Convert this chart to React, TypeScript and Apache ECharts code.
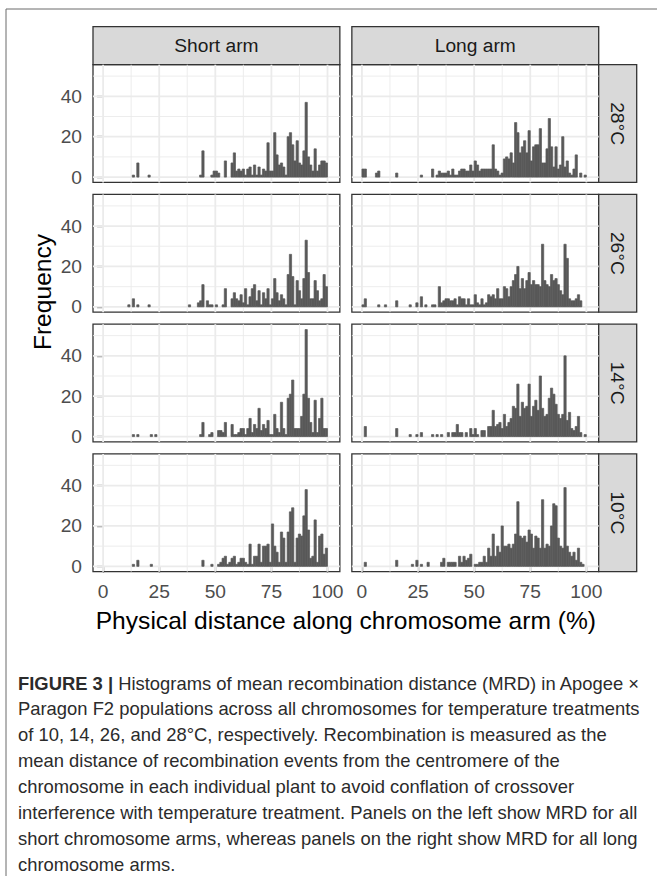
import React, { useEffect, useRef } from "react";
import * as echarts from "echarts";

// ---------------- data ----------------
const ARMS = ["Short arm", "Long arm"];
const TEMPS = ["28°C", "26°C", "14°C", "10°C"];
const X_TICKS = [0, 25, 50, 75, 100];
const Y_TICKS = [0, 20, 40];
const X_MINOR = [12.5, 37.5, 62.5, 87.5];
const Y_MINOR = [10, 30, 50];
const BIN_WIDTH = 1; // bins of 1 % from 0 to 100

const SHORT_28 = [
  0, 0, 0, 0, 0, 0, 0, 0, 0, 0, 0, 0, 0, 1, 0, 7, 0, 0, 0, 0,
  1, 0, 0, 0, 0, 0, 0, 0, 0, 0, 0, 0, 0, 0, 0, 0, 0, 0, 0, 0,
  0, 0, 0, 1, 13, 0, 0, 0, 1, 3, 3, 2, 0, 0, 8, 0, 0, 7, 12, 3,
  4, 3, 4, 1, 4, 5, 1, 6, 1, 5, 1, 4, 3, 17, 3, 3, 22, 11, 6, 7,
  5, 1, 20, 22, 16, 8, 18, 7, 6, 13, 37, 10, 6, 3, 14, 3, 6, 8, 8, 7,
];
const LONG_28 = [
  4, 4, 0, 0, 0, 0, 2, 3, 0, 0, 0, 0, 0, 0, 0, 2, 0, 0, 0, 0,
  0, 0, 0, 0, 0, 0, 1, 0, 0, 0, 0, 4, 0, 1, 3, 2, 2, 2, 3, 1,
  4, 1, 1, 3, 4, 4, 3, 3, 6, 3, 8, 6, 3, 4, 4, 4, 4, 4, 16, 4,
  3, 1, 2, 9, 10, 9, 12, 7, 27, 22, 12, 15, 18, 12, 23, 8, 15, 16, 16, 24,
  7, 7, 14, 29, 15, 5, 15, 4, 6, 20, 5, 8, 2, 1, 4, 11, 0, 2, 0, 1,
];
const SHORT_26 = [
  0, 0, 0, 0, 0, 0, 0, 0, 0, 0, 0, 1, 0, 4, 0, 1, 0, 0, 0, 0,
  1, 0, 0, 0, 0, 0, 0, 0, 0, 0, 0, 0, 0, 0, 0, 0, 0, 0, 1, 0,
  0, 0, 2, 3, 11, 0, 3, 1, 1, 0, 1, 0, 0, 1, 9, 0, 0, 4, 7, 4,
  3, 6, 2, 9, 1, 5, 9, 11, 3, 8, 1, 7, 4, 9, 1, 4, 14, 7, 3, 6,
  4, 1, 16, 26, 15, 1, 13, 8, 4, 14, 33, 17, 4, 4, 13, 8, 3, 4, 16, 10,
];
const LONG_26 = [
  1, 4, 0, 0, 0, 0, 0, 1, 0, 0, 1, 0, 0, 0, 0, 3, 0, 0, 0, 0,
  0, 1, 0, 0, 2, 0, 5, 0, 1, 0, 0, 1, 1, 0, 10, 2, 3, 4, 4, 3,
  3, 4, 1, 5, 4, 4, 1, 4, 1, 1, 6, 2, 1, 4, 1, 2, 6, 5, 6, 4,
  9, 4, 4, 10, 9, 5, 10, 13, 16, 20, 9, 14, 9, 13, 17, 11, 13, 11, 11, 10,
  31, 13, 11, 10, 16, 13, 14, 11, 8, 6, 31, 24, 4, 3, 3, 4, 6, 3, 0, 0,
];
const SHORT_14 = [
  0, 0, 0, 0, 0, 0, 0, 0, 0, 0, 0, 0, 0, 1, 0, 1, 0, 0, 0, 0,
  0, 1, 0, 1, 0, 0, 0, 0, 0, 0, 0, 0, 0, 0, 0, 0, 0, 0, 0, 0,
  0, 0, 0, 1, 7, 0, 0, 1, 2, 0, 0, 3, 3, 2, 7, 0, 0, 6, 1, 1,
  2, 4, 4, 1, 4, 9, 2, 6, 4, 14, 3, 6, 4, 8, 1, 1, 11, 4, 2, 17,
  4, 1, 19, 21, 28, 4, 4, 4, 10, 21, 53, 19, 7, 2, 18, 2, 9, 19, 4, 4,
];
const LONG_14 = [
  0, 5, 0, 0, 0, 0, 0, 0, 0, 0, 0, 0, 0, 0, 0, 4, 0, 0, 0, 0,
  0, 1, 0, 0, 1, 0, 2, 0, 0, 0, 0, 1, 0, 1, 0, 1, 0, 0, 2, 0,
  2, 2, 6, 2, 2, 0, 2, 0, 4, 1, 4, 1, 0, 3, 3, 0, 5, 5, 13, 5,
  6, 7, 4, 11, 5, 7, 9, 15, 14, 26, 10, 17, 14, 15, 26, 10, 15, 18, 13, 30,
  14, 10, 11, 19, 24, 21, 16, 11, 9, 11, 40, 8, 12, 4, 3, 5, 10, 2, 0, 1,
];
const SHORT_10 = [
  0, 0, 0, 0, 0, 0, 0, 0, 0, 0, 0, 0, 0, 1, 0, 3, 0, 0, 0, 0,
  0, 1, 0, 0, 0, 0, 0, 0, 0, 0, 0, 0, 0, 0, 0, 0, 0, 0, 0, 0,
  0, 0, 0, 0, 3, 0, 0, 0, 1, 0, 0, 1, 2, 4, 5, 1, 2, 4, 5, 1,
  2, 4, 4, 2, 1, 11, 1, 5, 5, 11, 2, 10, 10, 11, 2, 21, 10, 7, 2, 17,
  14, 2, 17, 27, 29, 2, 14, 16, 15, 25, 38, 18, 4, 5, 23, 2, 15, 16, 6, 9,
];
const LONG_10 = [
  0, 2, 0, 0, 0, 0, 0, 0, 0, 0, 0, 0, 0, 0, 0, 3, 0, 0, 0, 0,
  0, 0, 1, 0, 3, 0, 1, 0, 0, 2, 0, 0, 0, 0, 0, 2, 4, 0, 2, 2,
  2, 2, 0, 5, 2, 5, 3, 4, 6, 0, 1, 1, 2, 2, 5, 2, 9, 5, 16, 5,
  10, 7, 20, 10, 10, 11, 9, 11, 16, 32, 15, 14, 15, 12, 18, 16, 9, 15, 14, 9,
  33, 9, 11, 10, 20, 31, 30, 14, 10, 9, 39, 10, 7, 5, 7, 3, 9, 2, 1, 0,
];

// rows: temperatures (top -> bottom), columns: arms
const PANEL_COUNTS = [
  [SHORT_28, LONG_28],
  [SHORT_26, LONG_26],
  [SHORT_14, LONG_14],
  [SHORT_10, LONG_10],
];

const CAPTION_LINES = [
  "{b|FIGURE 3 |} Histograms of mean recombination distance (MRD) in Apogee ×",
  "Paragon F2 populations across all chromosomes for temperature treatments",
  "of 10, 14, 26, and 28°C, respectively. Recombination is measured as the",
  "mean distance of recombination events from the centromere of the",
  "chromosome in each individual plant to avoid conflation of crossover",
  "interference with temperature treatment. Panels on the left show MRD for all",
  "short chromosome arms, whereas panels on the right show MRD for all long",
  "chromosome arms.",
];

// ---------------- layout ----------------
const FONT = "'Liberation Sans', Arial, Helvetica, sans-serif";
const PANEL_LEFT = [93, 351.85];
const PANEL_W = 246.85;
const PANEL_TOP0 = 64.7;
const PANEL_H = 117.75;
const ROW_STEP = 129.75;
const STRIP = 38;
const X_MIN = -4.5;
const X_MAX = 105.5;
const Y_MIN = -2.65;
const Y_MAX = 55.65;
const BORDER = "#333333";
const STRIP_FILL = "#d9d9d9";
const BAR_FILL = "#595959";
const GRID_COLOR = "#ebebeb";
const CAPTION_SIZE = 18.4;

export default function App() {
  const ref = useRef<HTMLDivElement>(null);

  useEffect(() => {
    if (!ref.current) return;
    const chart = echarts.init(ref.current, undefined, { renderer: "svg" });

    const grids: any[] = [];
    const xAxes: any[] = [];
    const yAxes: any[] = [];
    const series: any[] = [];
    const graphics: any[] = [];

    const gridLineData: number[][] = [];
    Y_TICKS.forEach((v) => gridLineData.push([0, v, 1]));
    Y_MINOR.forEach((v) => gridLineData.push([0, v, 0]));
    X_TICKS.forEach((v) => gridLineData.push([1, v, 1]));
    X_MINOR.forEach((v) => gridLineData.push([1, v, 0]));

    TEMPS.forEach((temp, r) => {
      ARMS.forEach((arm, c) => {
        const k = r * 2 + c;
        const top = PANEL_TOP0 + r * ROW_STEP;
        grids.push({
          left: PANEL_LEFT[c],
          top,
          width: PANEL_W,
          height: PANEL_H,
          show: true,
          borderColor: BORDER,
          borderWidth: 1.3,
          backgroundColor: "#ffffff",
        });
        xAxes.push({
          type: "value",
          gridIndex: k,
          min: X_MIN,
          max: X_MAX,
          axisLine: { show: false },
          splitLine: { show: false },
          axisTick: {
            show: r === 3,
            customValues: X_TICKS,
            length: 6,
            lineStyle: { color: BORDER, width: 1.3 },
          },
          axisLabel: {
            show: r === 3,
            customValues: X_TICKS,
            fontSize: 19.2,
            fontFamily: FONT,
            color: "#4d4d4d",
            margin: 10,
          },
        });
        yAxes.push({
          type: "value",
          gridIndex: k,
          min: Y_MIN,
          max: Y_MAX,
          axisLine: { show: false },
          splitLine: { show: false },
          axisTick: {
            show: c === 0,
            customValues: Y_TICKS,
            length: 6,
            lineStyle: { color: BORDER, width: 1.3 },
          },
          axisLabel: {
            show: c === 0,
            customValues: Y_TICKS,
            fontSize: 19.2,
            fontFamily: FONT,
            color: "#4d4d4d",
            margin: 11,
          },
        });

        series.push({
          type: "custom",
          xAxisIndex: k,
          yAxisIndex: k,
          silent: true,
          z: 1,
          data: gridLineData,
          renderItem: (params: any, api: any) => {
            const orient = api.value(0);
            const v = api.value(1);
            const major = api.value(2) === 1;
            const cs = params.coordSys;
            const style = { stroke: GRID_COLOR, lineWidth: major ? 1.8 : 0.9 };
            if (orient === 0) {
              const p = api.coord([0, v]);
              return {
                type: "line",
                shape: { x1: cs.x, y1: p[1], x2: cs.x + cs.width, y2: p[1] },
                style,
              };
            }
            const p = api.coord([v, 0]);
            return {
              type: "line",
              shape: { x1: p[0], y1: cs.y, x2: p[0], y2: cs.y + cs.height },
              style,
            };
          },
        });

        const counts = PANEL_COUNTS[r][c];
        const barData: number[][] = [];
        counts.forEach((n, i) => {
          if (n > 0) barData.push([i * BIN_WIDTH, (i + 1) * BIN_WIDTH, n]);
        });
        series.push({
          type: "custom",
          name: `${arm} ${temp}`,
          xAxisIndex: k,
          yAxisIndex: k,
          silent: true,
          z: 2,
          encode: { x: [0, 1], y: 2 },
          data: barData,
          renderItem: (params: any, api: any) => {
            const a = api.coord([api.value(0), 0]);
            const b = api.coord([api.value(1), api.value(2)]);
            return {
              type: "rect",
              shape: { x: a[0], y: b[1], width: b[0] - a[0], height: a[1] - b[1] },
              style: { fill: BAR_FILL, stroke: BAR_FILL, lineWidth: 0.7 },
            };
          },
        });

        // right strips
        if (c === 1) {
          graphics.push({
            type: "rect",
            shape: { x: PANEL_LEFT[1] + PANEL_W, y: top, width: STRIP, height: PANEL_H },
            style: { fill: STRIP_FILL, stroke: BORDER, lineWidth: 1.3 },
          });
          graphics.push({
            type: "text",
            x: PANEL_LEFT[1] + PANEL_W + STRIP / 2,
            y: top + PANEL_H / 2,
            rotation: -Math.PI / 2,
            style: {
              text: temp,
              fontSize: 19.2,
              fontFamily: FONT,
              fill: "#1a1a1a",
              align: "center",
              verticalAlign: "middle",
              textAlign: "center",
              textVerticalAlign: "middle",
            },
          });
        }
      });
    });

    // top strips
    ARMS.forEach((arm, c) => {
      graphics.push({
        type: "rect",
        shape: { x: PANEL_LEFT[c], y: PANEL_TOP0 - STRIP, width: PANEL_W, height: STRIP },
        style: { fill: STRIP_FILL, stroke: BORDER, lineWidth: 1.3 },
      });
      graphics.push({
        type: "text",
        x: PANEL_LEFT[c] + PANEL_W / 2,
        y: PANEL_TOP0 - STRIP / 2,
        style: {
          text: arm,
          fontSize: 19.2,
          fontFamily: FONT,
          fill: "#1a1a1a",
          align: "center",
          verticalAlign: "middle",
          textAlign: "center",
          textVerticalAlign: "middle",
        },
      });
    });

    // axis titles
    graphics.push({
      type: "text",
      x: 42,
      y: 292,
      rotation: Math.PI / 2,
      style: {
        text: "Frequency",
        fontSize: 24.6,
        fontFamily: FONT,
        fill: "#000000",
        align: "center",
        verticalAlign: "middle",
        textAlign: "center",
        textVerticalAlign: "middle",
      },
    });
    graphics.push({
      type: "text",
      x: (PANEL_LEFT[0] + PANEL_LEFT[1] + PANEL_W) / 2,
      y: 620,
      style: {
        text: "Physical distance along chromosome arm (%)",
        fontSize: 24.6,
        fontFamily: FONT,
        fill: "#000000",
        align: "center",
        verticalAlign: "middle",
        textAlign: "center",
        textVerticalAlign: "middle",
      },
    });

    // frame
    graphics.push({
      type: "rect",
      shape: { x: 6, y: 9, width: 720, height: 920 },
      style: { fill: "none", stroke: "#6a6a6a", lineWidth: 1 },
      z: -1,
    });

    // caption
    CAPTION_LINES.forEach((line, i) => {
      graphics.push({
        type: "text",
        x: 18,
        y: 683 + i * 25.9,
        style: {
          text: line,
          fontSize: CAPTION_SIZE,
          fontFamily: FONT,
          fill: "#2b2b2b",
          align: "left",
          verticalAlign: "middle",
          textAlign: "left",
          textVerticalAlign: "middle",
          rich: {
            b: { fontSize: CAPTION_SIZE, fontFamily: FONT, fontWeight: "bold", fill: "#2b2b2b" },
          },
        },
      });
    });

    chart.setOption({
      animation: false,
      backgroundColor: "#ffffff",
      grid: grids,
      xAxis: xAxes,
      yAxis: yAxes,
      series,
      graphic: { elements: graphics },
    });

    return () => chart.dispose();
  }, []);

  return (
    <div
      ref={ref}
      style={{ position: "absolute", left: 0, top: 0, width: 657, height: 876 }}
    />
  );
}
